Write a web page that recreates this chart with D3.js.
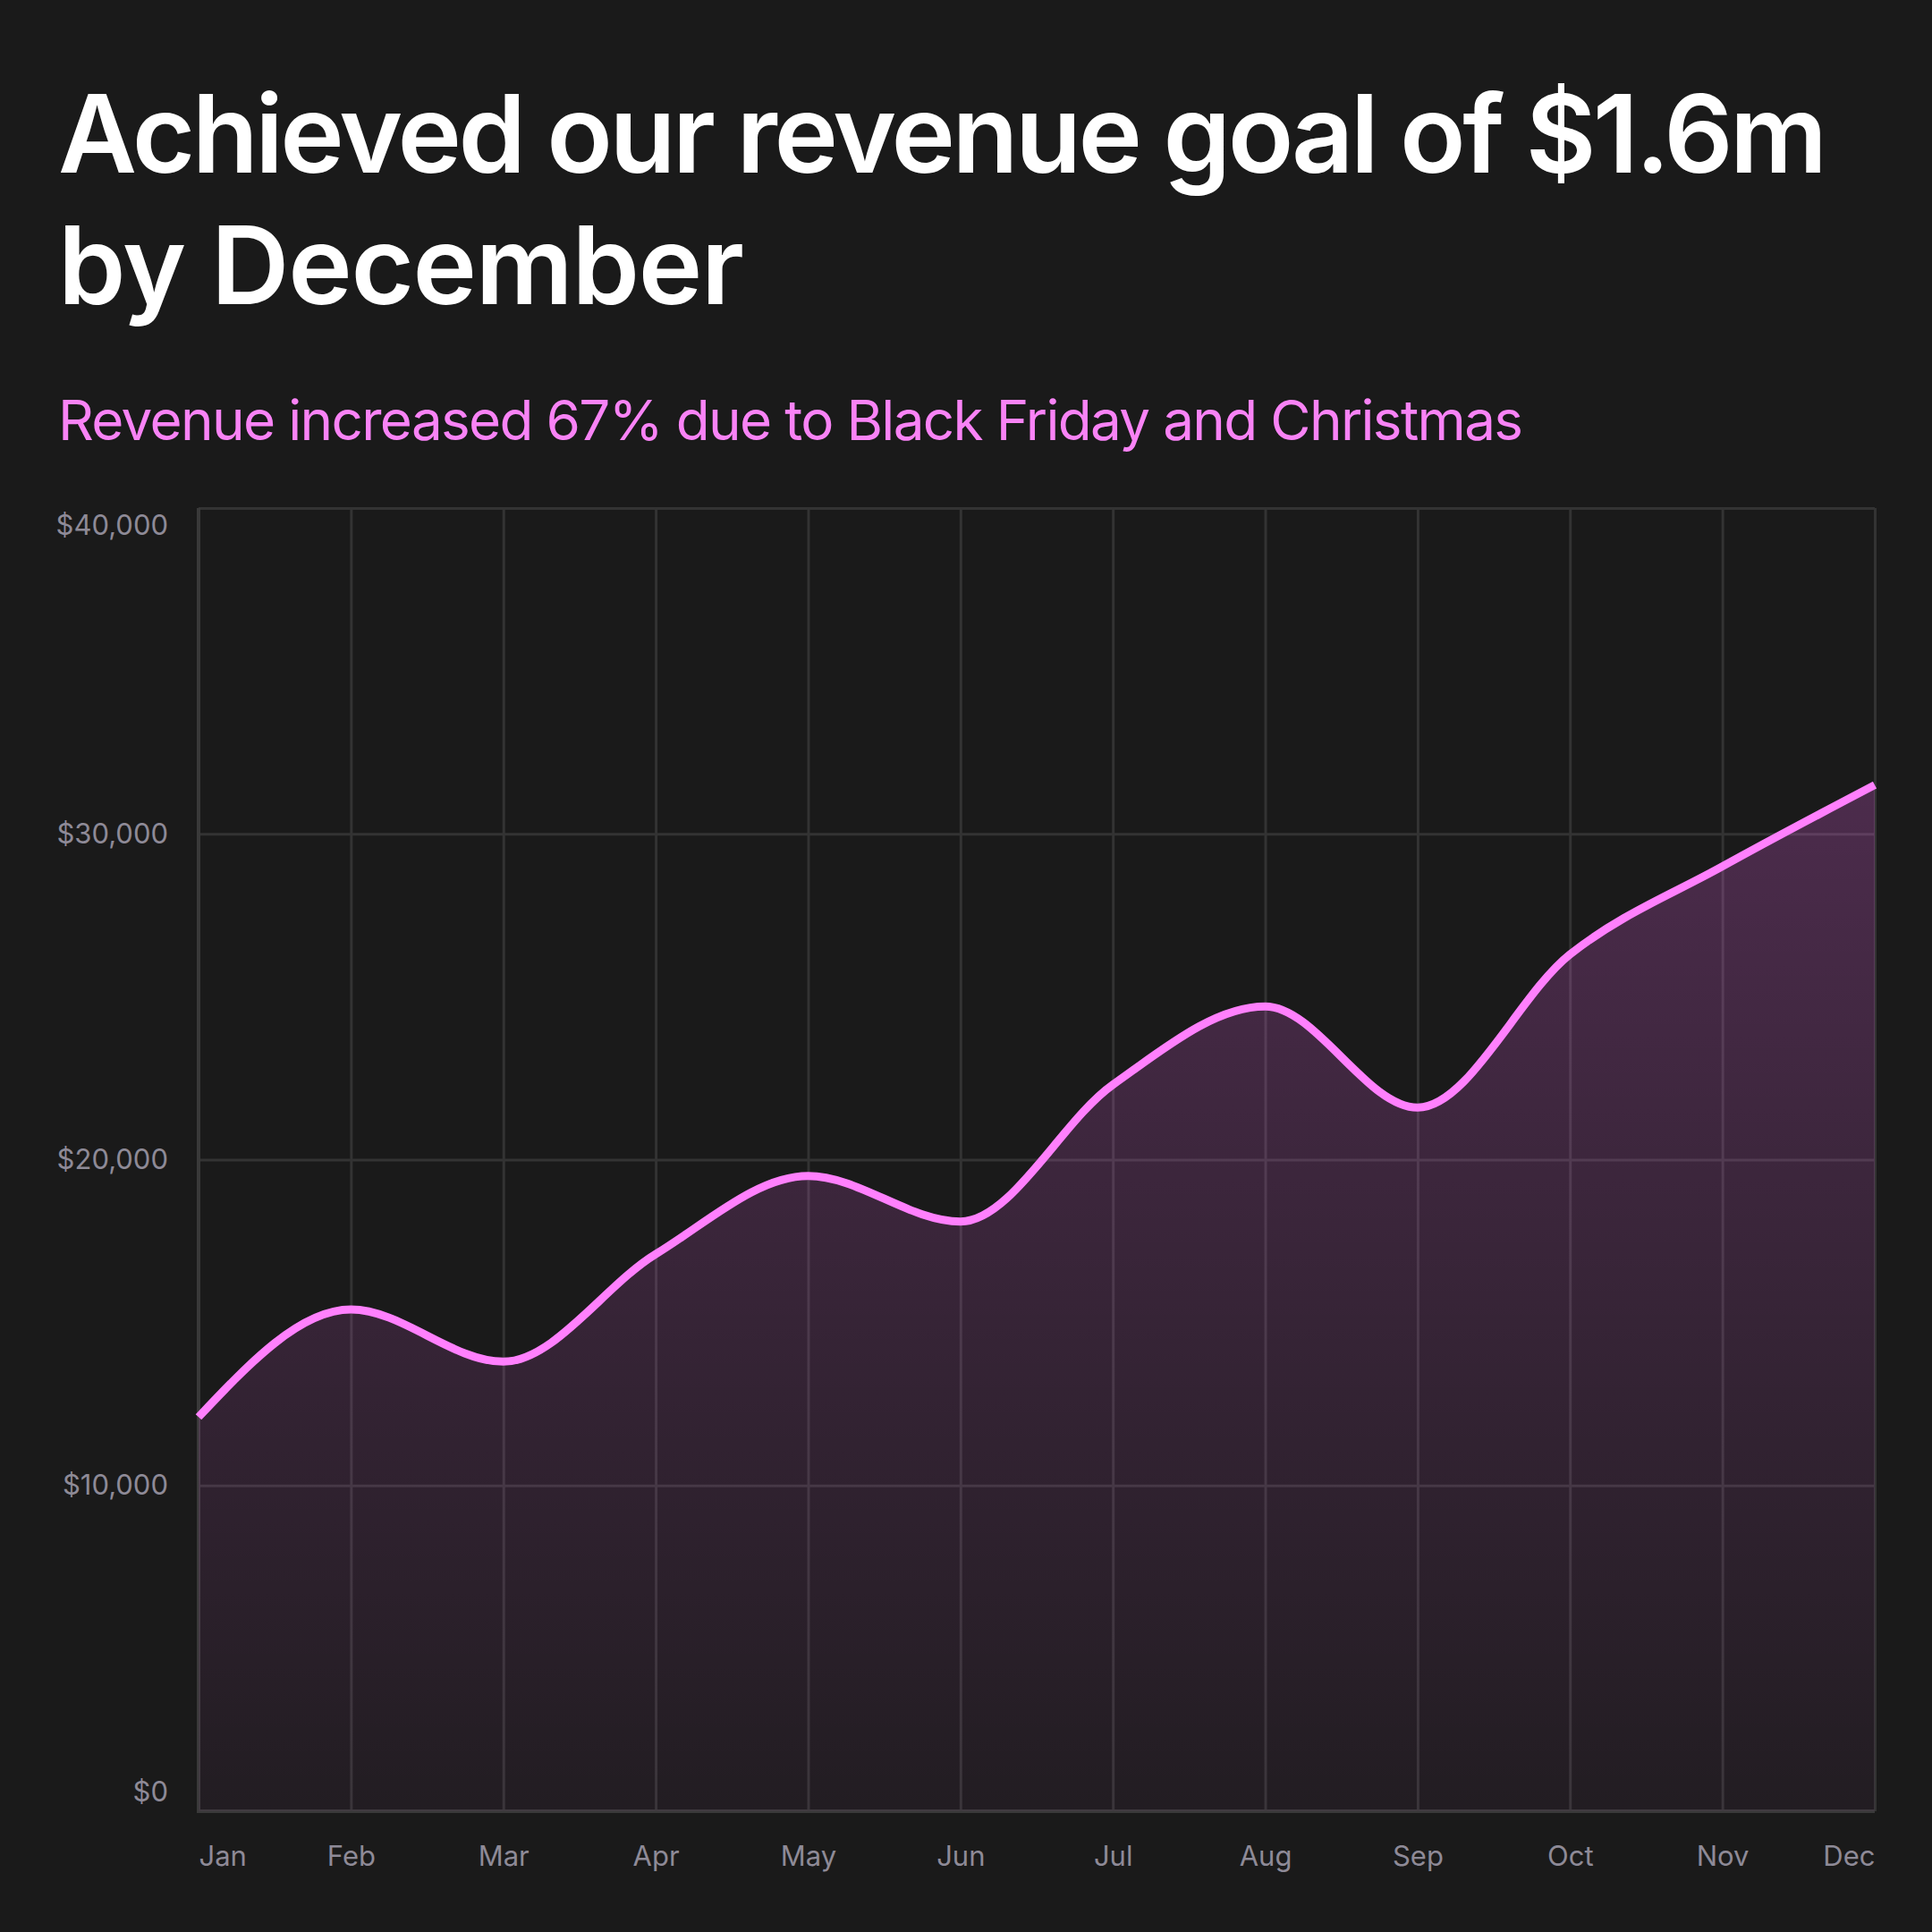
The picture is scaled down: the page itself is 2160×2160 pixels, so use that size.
<!doctype html>
<html>
  <head>
    <script src="https://cdnjs.cloudflare.com/ajax/libs/d3/7.8.5/d3.min.js"></script>
    <style>
      html, body { margin: 0; padding: 0; background: #1a1a1a; }
      svg { display: block; }
      .title { font-family: Inter, "Open Sans", sans-serif; font-weight: 600; fill: #ffffff; }
      .subtitle { font-family: Inter, "Open Sans", sans-serif; font-weight: 400; fill: #f983f6; }
      .axis text { font-family: Inter, "Noto Sans", sans-serif; font-size: 31px; fill: #8e8a97; }
      .axis .domain { display: none; }
      .axis line { stroke: #333333; stroke-width: 3px; }
    </style>
  </head>
  <body>
    <svg width="2160" height="2160"></svg>
    <script>
      var months = ["Jan", "Feb", "Mar", "Apr", "May", "Jun", "Jul", "Aug", "Sep", "Oct", "Nov", "Dec"];
      var revenue = [12100, 15400, 13800, 17100, 19500, 18100, 22300, 24700, 21600, 26300, 29000, 31500];
      var yTicks = [0, 10000, 20000, 30000, 40000];

      var titleLines = ["Achieved our revenue goal of $1.6m", "by December"];
      var subtitle = "Revenue increased 67% due to Black Friday and Christmas";

      var svg = d3.select("svg");
      svg.append("rect").attr("width", 2160).attr("height", 2160).attr("fill", "#1a1a1a");

      var margin = { left: 222, right: 64, top: 568, bottom: 135 };
      var width = 2160 - margin.left - margin.right;
      var height = 2160 - margin.top - margin.bottom;

      // tighten letter spacing so a text fills the width it has in the original
      function fitWidth(sel, target) {
        sel.each(function (d, i) {
          var t = typeof target === "function" ? target(d, i) : target;
          var n = this.textContent.length;
          var w = this.getComputedTextLength();
          d3.select(this).attr("letter-spacing", (t - w) / (n - 1));
        });
      }

      // titles
      var titleWidths = [1978, 767];
      svg.selectAll("text.title")
        .data(titleLines)
        .enter()
        .append("text")
          .attr("class", "title")
          .attr("x", 65)
          .attr("y", (d, i) => 193 + i * 147)
          .attr("font-size", 121)
          .text(d => d)
          .call(fitWidth, (d, i) => titleWidths[i]);

      svg.append("text")
        .attr("class", "subtitle")
        .attr("x", 65)
        .attr("y", 492)
        .attr("font-size", 62)
        .text(subtitle)
        .call(fitWidth, 1638);

      var g = svg.append("g")
        .attr("transform", `translate(${margin.left},${margin.top})`);

      var x = d3.scalePoint().domain(months).range([0, width]);
      var y = d3.scaleLinear().domain([0, 40000]).range([height, 0]);

      // y grid + labels
      var yAxis = g.append("g")
        .attr("class", "axis y")
        .call(d3.axisLeft(y)
          .tickValues(yTicks)
          .tickSize(-width)
          .tickPadding(34)
          .tickFormat(d => "$" + d3.format(",")(d)));

      yAxis.selectAll("text")
        .attr("transform", d => d === 40000 ? "translate(0,20)" : d === 0 ? "translate(0,-21)" : null);

      // x grid + labels
      var xAxis = g.append("g")
        .attr("class", "axis x")
        .attr("transform", `translate(0,${height})`)
        .call(d3.axisBottom(x)
          .tickSize(-height)
          .tickPadding(39));

      xAxis.selectAll("text")
        .attr("text-anchor", (d, i) => i === 0 ? "start" : i === months.length - 1 ? "end" : "middle");

      // frame lines on the left and bottom
      g.append("line")
        .attr("x1", 0).attr("x2", 0)
        .attr("y1", 0).attr("y2", height)
        .attr("stroke", "#393939").attr("stroke-width", 4);
      g.append("line")
        .attr("x1", -2).attr("x2", width)
        .attr("y1", height).attr("y2", height)
        .attr("stroke", "#393939").attr("stroke-width", 4);

      var data = months.map((m, i) => ({ month: m, value: revenue[i] }));

      var grad = svg.append("defs")
        .append("linearGradient")
          .attr("id", "areaFill")
          .attr("x1", 0).attr("y1", 0)
          .attr("x2", 0).attr("y2", 1);
      grad.append("stop").attr("offset", "0%").attr("stop-color", "#ff6aff").attr("stop-opacity", 0.22);
      grad.append("stop").attr("offset", "100%").attr("stop-color", "#ff6aff").attr("stop-opacity", 0.035);

      var area = d3.area()
        .x(d => x(d.month))
        .y0(height)
        .y1(d => y(d.value))
        .curve(d3.curveMonotoneX);

      var line = d3.line()
        .x(d => x(d.month))
        .y(d => y(d.value))
        .curve(d3.curveMonotoneX);

      g.append("path")
        .datum(data)
        .attr("d", area)
        .attr("fill", "url(#areaFill)");

      g.append("path")
        .datum(data)
        .attr("d", line)
        .attr("fill", "none")
        .attr("stroke", "#ff80fd")
        .attr("stroke-width", 9);
    </script>
  </body>
</html>
